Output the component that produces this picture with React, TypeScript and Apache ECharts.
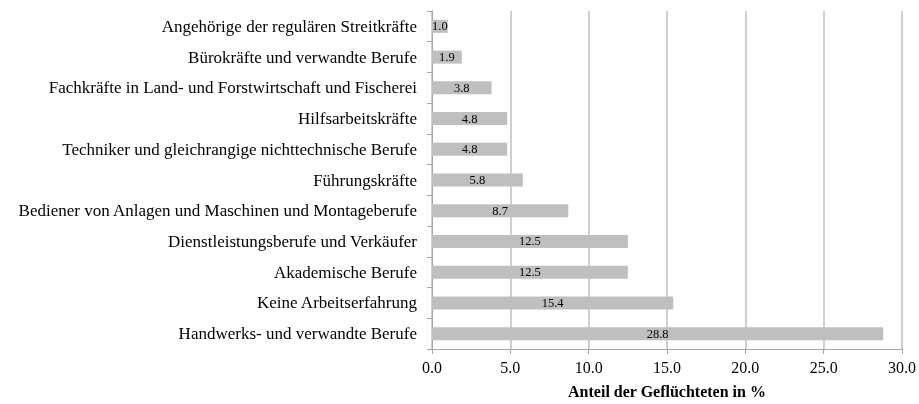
import React, { useEffect, useRef } from "react";
import * as echarts from "echarts";

const categories = [
  "Angehörige der regulären Streitkräfte",
  "Bürokräfte und verwandte Berufe",
  "Fachkräfte in Land- und Forstwirtschaft und Fischerei",
  "Hilfsarbeitskräfte",
  "Techniker und gleichrangige nichttechnische Berufe",
  "Führungskräfte",
  "Bediener von Anlagen und Maschinen und Montageberufe",
  "Dienstleistungsberufe und Verkäufer",
  "Akademische Berufe",
  "Keine Arbeitserfahrung",
  "Handwerks- und verwandte Berufe",
];
const values = [1.0, 1.9, 3.8, 4.8, 4.8, 5.8, 8.7, 12.5, 12.5, 15.4, 28.8];
const axisTitle = "Anteil der Geflüchteten in %";

const FONT = "Liberation Serif";

export default function App() {
  const ref = useRef<HTMLDivElement>(null);
  useEffect(() => {
    if (!ref.current) return;
    const chart = echarts.init(ref.current, undefined, { renderer: "svg" });
    chart.setOption({
      animation: false,
      textStyle: { fontFamily: FONT },
      grid: { left: 432, right: 13, top: 11, bottom: 50, containLabel: false },
      xAxis: {
        type: "value",
        min: 0,
        max: 30,
        interval: 5,
        axisLine: { show: true, lineStyle: { color: "#a6a6a6", width: 1 } },
        axisTick: { show: true, length: 5, lineStyle: { color: "#a6a6a6" } },
        axisLabel: {
          formatter: (v: number) => v.toFixed(1),
          color: "#000",
          fontFamily: FONT,
          fontSize: 16,
          margin: 10,
        },
        splitLine: { show: true, lineStyle: { color: "#bfbfbf", width: 1.5 } },
        name: axisTitle,
        nameLocation: "middle",
        nameGap: 34,
        nameTextStyle: { fontFamily: FONT, fontSize: 16, fontWeight: "bold", color: "#000" },
      },
      yAxis: {
        type: "category",
        data: categories,
        inverse: true,
        axisLine: { show: true, lineStyle: { color: "#a6a6a6", width: 1 } },
        axisTick: { show: true, length: 5, lineStyle: { color: "#a6a6a6" } },
        axisLabel: { color: "#000", fontFamily: FONT, fontSize: 17, margin: 15 },
      },
      series: [
        {
          type: "bar",
          data: values,
          barWidth: 13,
          itemStyle: { color: "#bfbfbf" },
          label: {
            show: true,
            position: "inside",
            formatter: (p: any) => p.value.toFixed(1),
            color: "#000",
            fontFamily: FONT,
            fontSize: 12.5,
          },
        },
      ],
    });
    return () => chart.dispose();
  }, []);
  return (
    <div
      ref={ref}
      style={{ position: "fixed", left: 0, top: 0, width: 919, height: 404 }}
    />
  );
}
